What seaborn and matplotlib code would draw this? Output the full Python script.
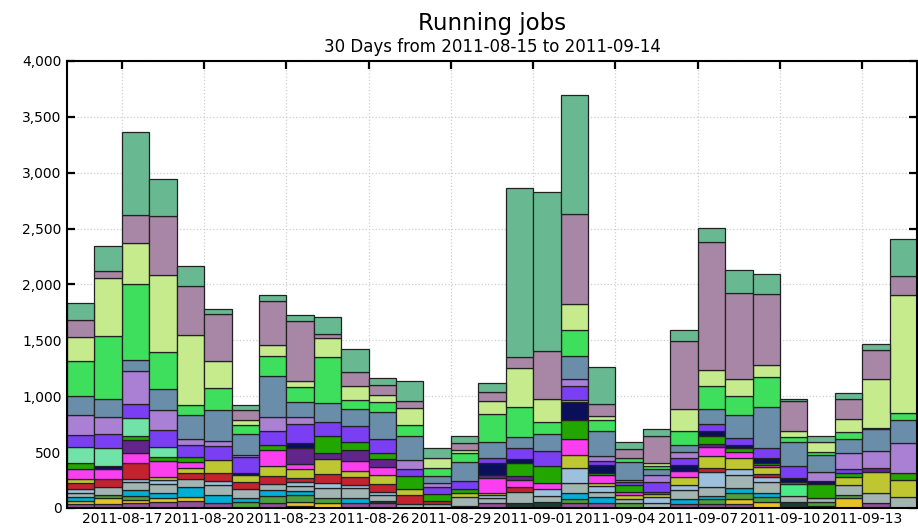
import numpy as np
import pandas as pd
import matplotlib
matplotlib.use("Agg")
import matplotlib.pyplot as plt
import seaborn as sns
from matplotlib.ticker import FuncFormatter, MultipleLocator

# ---------------- data ----------------
dates = ["2011-08-15", "2011-08-16", "2011-08-17", "2011-08-18", "2011-08-19", "2011-08-20",
         "2011-08-21", "2011-08-22", "2011-08-23", "2011-08-24", "2011-08-25", "2011-08-26",
         "2011-08-27", "2011-08-28", "2011-08-29", "2011-08-30", "2011-08-31", "2011-09-01",
         "2011-09-02", "2011-09-03", "2011-09-04", "2011-09-05", "2011-09-06", "2011-09-07",
         "2011-09-08", "2011-09-09", "2011-09-10", "2011-09-11", "2011-09-12", "2011-09-13",
         "2011-09-14"]
tick_labels = ["2011-08-17", "2011-08-20", "2011-08-23", "2011-08-26", "2011-08-29",
               "2011-09-01", "2011-09-04", "2011-09-07", "2011-09-10", "2011-09-13"]

# series, listed bottom -> top of the stack
PU = [36, 36, 42, 57, 66, 42, 0, 42, 21, 0, 42, 42, 0, 0, 0, 48, 0, 0, 42, 42, 0, 0, 36, 36, 36, 0, 0, 0, 0, 42, 0]
DK = [0, 0, 0, 0, 0, 0, 0, 0, 0, 0, 0, 24, 0, 0, 18, 0, 48, 57, 0, 0, 0, 0, 0, 0, 0, 0, 57, 0, 0, 0, 0]
YE = [30, 51, 30, 30, 30, 0, 0, 0, 36, 42, 0, 0, 0, 0, 0, 0, 0, 0, 0, 0, 0, 0, 0, 0, 45, 57, 0, 21, 90, 0, 0]
GG = [0, 30, 36, 0, 0, 0, 57, 66, 60, 45, 0, 0, 0, 0, 0, 0, 0, 0, 36, 0, 42, 0, 0, 42, 51, 45, 0, 36, 27, 0, 0]
CY = [36, 0, 53, 51, 95, 75, 30, 53, 35, 0, 45, 0, 0, 0, 0, 0, 0, 0, 54, 54, 0, 0, 42, 30, 44, 30, 0, 0, 0, 0, 0]
GR = [30, 74, 75, 77, 66, 89, 80, 54, 48, 89, 89, 51, 36, 36, 84, 39, 99, 51, 89, 51, 36, 48, 83, 83, 120, 104, 51, 30, 89, 90, 102]
LB = [35, 0, 21, 36, 0, 36, 0, 0, 36, 51, 30, 30, 0, 0, 0, 30, 0, 60, 135, 50, 0, 48, 45, 135, 51, 39, 0, 0, 0, 0, 0]
BM = [0, 0, 0, 0, 0, 0, 0, 0, 0, 0, 0, 0, 0, 0, 0, 0, 0, 0, 0, 0, 0, 0, 0, 0, 0, 0, 107, 0, 0, 0, 0]
RE = [54, 66, 144, 0, 54, 69, 69, 72, 30, 78, 75, 68, 81, 30, 0, 0, 44, 0, 0, 0, 0, 0, 0, 30, 0, 30, 0, 0, 0, 0, 0]
OL = [36, 0, 0, 24, 45, 120, 60, 90, 81, 132, 54, 81, 50, 0, 30, 21, 0, 0, 119, 24, 39, 30, 69, 110, 99, 60, 0, 0, 75, 194, 149]
MG = [90, 90, 95, 150, 60, 0, 0, 143, 45, 0, 90, 69, 0, 0, 0, 128, 60, 54, 141, 75, 30, 0, 60, 78, 59, 21, 0, 0, 0, 0, 0]
DP = [0, 0, 114, 0, 0, 0, 0, 0, 149, 53, 95, 72, 0, 0, 0, 30, 36, 0, 0, 0, 0, 0, 0, 30, 0, 0, 0, 0, 0, 30, 0]
DG = [54, 0, 36, 29, 38, 0, 0, 45, 0, 150, 75, 53, 123, 60, 35, 0, 120, 150, 167, 15, 59, 21, 0, 66, 30, 21, 21, 128, 30, 0, 66]
NV = [0, 30, 0, 0, 0, 0, 15, 0, 39, 0, 0, 0, 0, 0, 0, 105, 30, 0, 162, 75, 0, 0, 51, 45, 30, 39, 30, 30, 0, 0, 0]
MT = [149, 164, 158, 96, 0, 0, 0, 0, 0, 0, 0, 0, 0, 0, 0, 0, 0, 0, 18, 0, 0, 0, 0, 0, 0, 0, 0, 0, 0, 0, 0]
VI = [99, 120, 129, 144, 111, 128, 143, 120, 170, 134, 141, 126, 57, 65, 78, 45, 98, 134, 125, 39, 30, 89, 60, 68, 60, 89, 111, 0, 36, 0, 0]
LV = [185, 152, 296, 185, 51, 42, 21, 128, 60, 0, 0, 0, 84, 36, 0, 0, 0, 0, 66, 41, 15, 60, 59, 0, 0, 0, 0, 75, 143, 155, 263]
SB = [165, 165, 99, 185, 218, 278, 189, 371, 135, 165, 149, 239, 209, 60, 165, 149, 96, 159, 203, 219, 165, 51, 60, 132, 209, 365, 218, 155, 126, 195, 203]
GN = [314, 565, 672, 329, 90, 194, 81, 173, 134, 409, 78, 90, 105, 69, 80, 248, 272, 104, 236, 98, 30, 30, 120, 203, 165, 269, 39, 30, 60, 12, 66]
LG = [218, 511, 371, 688, 628, 240, 38, 105, 60, 174, 131, 69, 149, 95, 30, 117, 347, 207, 230, 42, 0, 30, 203, 150, 151, 114, 51, 90, 119, 433, 1053]
MA = [155, 66, 251, 532, 433, 424, 90, 389, 535, 39, 120, 89, 66, 0, 66, 78, 101, 427, 807, 108, 80, 239, 610, 1142, 778, 628, 269, 0, 180, 263, 173]
SF = [144, 224, 745, 329, 180, 45, 45, 51, 54, 146, 209, 60, 179, 90, 54, 80, 1513, 1427, 1062, 329, 69, 60, 93, 123, 203, 179, 21, 48, 54, 54, 329]

series = {"PU": PU, "DK": DK, "YE": YE, "GG": GG, "CY": CY, "GR": GR, "LB": LB, "BM": BM,
          "RE": RE, "OL": OL, "MG": MG, "DP": DP, "DG": DG, "NV": NV, "MT": MT, "VI": VI,
          "LV": LV, "SB": SB, "GN": GN, "LG": LG, "MA": MA, "SF": SF}
colors = {"PU": "#93509a", "DK": "#1e3a35", "YE": "#e6c229", "GG": "#4e9f3d", "CY": "#00afd6",
          "GR": "#a3b5b3", "LB": "#9dc0dc", "BM": "#49ec84", "RE": "#c4222f", "OL": "#bec732",
          "MG": "#fb3ef0", "DP": "#62258c", "DG": "#22a600", "NV": "#0a0f5b", "MT": "#72e3a8",
          "VI": "#7b3ff3", "LV": "#aa80d4", "SB": "#6a8ea9", "GN": "#3ddf5c", "LG": "#c6eb8c",
          "MA": "#a886a5", "SF": "#68b991"}

rows = []
for name, vals in series.items():
    for i, v in enumerate(vals):
        rows.append({"day": i + 0.5, "date": dates[i], "user": name, "jobs": v})
df = pd.DataFrame(rows)

# seaborn stacks the first hue level on top -> give order top to bottom
hue_order = list(series.keys())[::-1]

# ---------------- plot ----------------
sns.set_theme(style="white")
plt.rcParams["font.family"] = ["DejaVu Sans"]
plt.rcParams["text.color"] = "black"

fig = plt.figure(figsize=(9.18, 5.29), dpi=100)
ax = fig.add_axes([0.073, 0.0397, 0.926, 0.845])

sns.histplot(data=df, x="day", weights="jobs", hue="user", hue_order=hue_order,
             palette=colors, multiple="stack", binwidth=1, binrange=(0, len(dates)),
             element="bars", fill=True, alpha=1, edgecolor="#222222", linewidth=0.9,
             legend=False, ax=ax)

for p in ax.patches:
    if p.get_height() <= 0:
        p.set_visible(False)

ax.set_xlim(0, len(dates))
ax.set_ylim(0, 4000)
ax.set_xticks([dates.index(t) for t in tick_labels])
ax.set_xticklabels(tick_labels)
ax.yaxis.set_major_locator(MultipleLocator(500))
ax.yaxis.set_major_formatter(FuncFormatter(lambda v, _: f"{v:,.0f}"))
ax.set_xlabel("")
ax.set_ylabel("")

ax.grid(True, linestyle=":", color="#cfcfcf", linewidth=0.9)
ax.set_axisbelow(True)
ax.tick_params(axis="both", which="major", direction="in", length=6, width=1.6,
               top=True, right=True, bottom=True, left=True, labelsize=10,
               colors="black", pad=4)
ax.tick_params(axis="x", pad=3)
for s in ax.spines.values():
    s.set_color("black")
    s.set_linewidth(1.5)

fig.text(0.536, 0.955, "Running jobs", ha="center", va="center", fontsize=16.5,
         color="black")
fig.text(0.536, 0.911, "30 Days from 2011-08-15 to 2011-09-14", ha="center", va="center",
         fontsize=12, color="black")

fig.savefig("out.png", dpi=100)
